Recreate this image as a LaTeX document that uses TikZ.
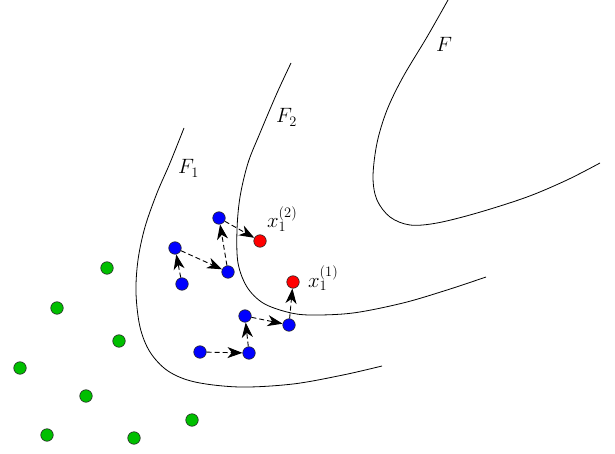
\documentclass[tikz,border=0pt]{standalone}
\usetikzlibrary{arrows.meta}
\begin{document}
\begin{tikzpicture}[x=1pt,y=-1pt,
  front/.style={line width=0.8pt, black},
  blue dot/.style={circle, draw=black!85, line width=0.6pt, fill=blue, minimum size=12.5pt, inner sep=0pt},
  red dot/.style={circle, draw=black!85, line width=0.6pt, fill=red, minimum size=12.5pt, inner sep=0pt},
  green dot/.style={circle, draw=black!85, line width=0.6pt, fill=green!75!black, minimum size=12.5pt, inner sep=0pt},
  move/.style={dashed, dash pattern=on 5pt off 3pt, line width=0.9pt, -{Stealth[length=15pt,width=11pt,inset=4.5pt]}},
  lbl/.style={font=\fontsize{21}{25}\selectfont, anchor=base west, inner sep=0pt}
]
\useasboundingbox (0,0) rectangle (615,454);
% fronts
\draw[front] plot[smooth, tension=0.55] coordinates {(184,128) (170,163) (157,193) (145,227) (138,260) (136,293) (140,327) (150,352) (168,371) (195,382) (240,387) (293,384) (343,375) (382,366)};
\draw[front] plot[smooth, tension=0.55] coordinates {(291,63) (277,93) (260,133) (248,163) (240,197) (237,230) (238,263) (247,287) (263,303) (287,312) (310,315) (353,313) (403,303) (447,290) (486,277)};
\draw[front] plot[smooth, tension=0.55] coordinates {(448,0) (427,37) (403,77) (387,110) (377,143) (373,177) (377,200) (390,217) (410,225) (437,223) (477,213) (527,197) (567,180) (600,163)};
% labels
\node[lbl] (lF) at (436,52) {$F$};
\node[lbl] (lF2) at (276,123) {$F_2$};
\node[lbl] (lF1) at (178,174) {$F_1$};
% blue
\node[blue dot] (b1) at (219,218) {};
\node[blue dot] (b2) at (175,248) {};
\node[blue dot] (b3) at (182,284) {};
\node[blue dot] (b4) at (228,272) {};
\node[blue dot] (b5) at (245,316) {};
\node[blue dot] (b6) at (289,325) {};
\node[blue dot] (b7) at (200,352) {};
\node[blue dot] (b8) at (249,353) {};
% red
\node[red dot] (r2) at (260,241) {};
\node[red dot] (r1) at (293,282) {};
\node[lbl] (x2) at (267,228) {$x_1^{(2)}$};
\node[lbl] (x1) at (308,287) {$x_1^{(1)}$};
% green
\node[green dot] (g1) at (107,268) {};
\node[green dot] (g2) at (57,308) {};
\node[green dot] (g3) at (119,341) {};
\node[green dot] (g4) at (20,368) {};
\node[green dot] (g5) at (86,396) {};
\node[green dot] (g6) at (192,420) {};
\node[green dot] (g7) at (47,435) {};
\node[green dot] (g8) at (134,438) {};
% moves
\draw[move] (b3) -- (b2);
\draw[move] (b2) -- (b4);
\draw[move] (b4) -- (b1);
\draw[move] (b1) -- (r2);
\draw[move] (b7) -- (b8);
\draw[move] (b8) -- (b5);
\draw[move] (b5) -- (b6);
\draw[move] (b6) -- (r1);
\end{tikzpicture}
\end{document}
